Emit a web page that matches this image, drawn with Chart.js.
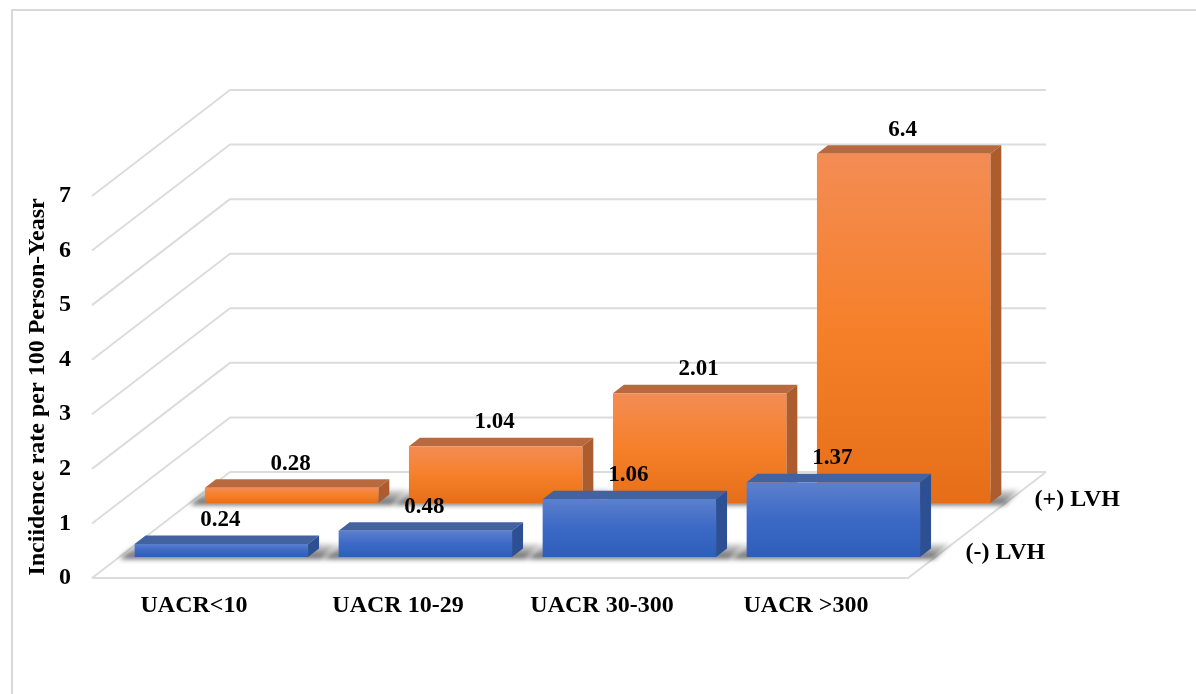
<!DOCTYPE html>
<html>
<head>
<meta charset="utf-8">
<style>
html,body{margin:0;padding:0;background:#fff;width:1196px;height:694px;overflow:hidden}
#frame{position:absolute;left:11px;top:9px;width:1300px;height:800px;border:2px solid #d9d9d9;box-sizing:border-box}
canvas{position:absolute;left:0;top:0}
</style>
<script src="https://cdn.jsdelivr.net/npm/chart.js@4"></script>
</head>
<body>
<div id="frame"></div>
<canvas id="c" width="1196" height="694"></canvas>
<script>
const categories = ['UACR<10', 'UACR 10-29', 'UACR 30-300', 'UACR >300'];
const seriesNames = ['(-) LVH', '(+) LVH'];
const lvhNegative = [0.24, 0.48, 1.06, 1.37];
const lvhPositive = [0.28, 1.04, 2.01, 6.4];
const axisTitle = 'Inciidence rate per 100 Person-Yeasr';
const yTicks = [0, 1, 2, 3, 4, 5, 6, 7];

// oblique projection of the floor
const WALL_DX = 138, WALL_DY = 106;       // front wall -> back wall
const BAR_DX = 11, BAR_DY = 8.5;          // front face -> back face of a bar
const SERIES_DEPTH = {xNeg: 21, xPos: 75}; // px up the floor of each front face
const FONT = '"Liberation Serif", "Times New Roman", serif';
const GRID = '#dcdcdc';
const styles = [
  {top: 'rgb(66,98,160)', side: 'rgb(45,80,148)', stops: ['rgb(92,128,204)', 'rgb(60,105,198)', 'rgb(46,94,186)']},
  {top: 'rgb(184,106,62)', side: 'rgb(172,92,45)', stops: ['rgb(243,140,84)', 'rgb(246,128,42)', 'rgb(230,110,25)']}
];

function faceGradient(i) {
  return function (c) {
    const chart = c.chart;
    const y = chart.scales[i === 0 ? 'yNeg' : 'yPos'];
    const fallback = styles[i].stops[1];
    if (c.dataIndex === undefined || !y) return fallback;
    const y0 = y.getPixelForValue(c.dataset.data[c.dataIndex]);
    const y1 = y.getPixelForValue(0);
    if (!isFinite(y0) || !isFinite(y1)) return fallback;
    const g = chart.ctx.createLinearGradient(0, y0, 0, y1);
    g.addColorStop(0, styles[i].stops[0]);
    g.addColorStop(0.5, styles[i].stops[1]);
    g.addColorStop(1, styles[i].stops[2]);
    return g;
  };
}

const obliquePlugin = {
  id: 'oblique',
  afterLayout(chart) {
    const fx = chart.scales.x, fy = chart.scales.y;
    [['xNeg', 'yNeg'], ['xPos', 'yPos']].forEach(([xid, yid]) => {
      const depth = SERIES_DEPTH[xid];
      const sx = chart.scales[xid], sy = chart.scales[yid];
      const dx = depth * WALL_DX / WALL_DY;
      sx.left = fx.left + dx; sx.right = fx.right + dx; sx.width = fx.width;
      sx.top = fx.top; sx.bottom = fx.bottom; sx.height = fx.height;
      sy.left = fy.left; sy.right = fy.right; sy.width = fy.width;
      sy.top = fy.top - depth; sy.bottom = fy.bottom - depth; sy.height = fy.height;
      sx.configure(); sy.configure();
    });
  },
  beforeDraw(chart) {
    const ctx = chart.ctx, y = chart.scales.y, x = chart.scales.x;
    ctx.save();
    ctx.strokeStyle = GRID;
    ctx.lineWidth = 2;
    ctx.lineJoin = 'round';
    yTicks.forEach(v => {
      const py = y.getPixelForValue(v);
      ctx.beginPath();
      ctx.moveTo(x.left, py);
      ctx.lineTo(x.left + WALL_DX, py - WALL_DY);
      ctx.lineTo(x.right + WALL_DX, py - WALL_DY);
      ctx.stroke();
    });
    const p0 = y.getPixelForValue(0);
    ctx.beginPath();
    ctx.moveTo(x.left, p0);
    ctx.lineTo(x.right, p0);
    ctx.lineTo(x.right + WALL_DX, p0 - WALL_DY);
    ctx.stroke();
    // depth axis labels
    ctx.fillStyle = '#000';
    ctx.font = 'bold 24px ' + FONT;
    ctx.textAlign = 'left';
    ctx.textBaseline = 'middle';
    seriesNames.forEach((name, i) => {
      const d = (i + 0.5) / seriesNames.length;
      ctx.fillText(name, x.right + WALL_DX * d + 23, p0 - WALL_DY * d + 1);
    });
    ctx.restore();
  },
  beforeDatasetsDraw(chart) {
    const ctx = chart.ctx;
    [1, 0].forEach(i => {
      chart.getDatasetMeta(i).data.forEach(bar => {
        const l = bar.x - bar.width / 2, r = bar.x + bar.width / 2, b = bar.base;
        ctx.save();
        ctx.filter = 'blur(2.5px)';
        const g = ctx.createLinearGradient(0, b - 14, 0, b + 2);
        g.addColorStop(0, 'rgba(120,120,120,0.25)');
        g.addColorStop(1, 'rgba(70,70,70,0.9)');
        ctx.fillStyle = g;
        ctx.beginPath();
        ctx.moveTo(l - 15, b + 2);
        ctx.lineTo(r + 14, b + 2);
        ctx.lineTo(r + 30, b - 13);
        ctx.lineTo(l + 2, b - 13);
        ctx.closePath();
        ctx.fill();
        ctx.restore();
      });
    });
  },
  beforeDatasetDraw(chart, args) {
    const ctx = chart.ctx, st = styles[args.index];
    args.meta.data.forEach(bar => {
      const l = bar.x - bar.width / 2, r = bar.x + bar.width / 2, t = bar.y, b = bar.base;
      ctx.save();
      ctx.fillStyle = st.top;
      ctx.beginPath();
      ctx.moveTo(l, t); ctx.lineTo(r, t);
      ctx.lineTo(r + BAR_DX, t - BAR_DY); ctx.lineTo(l + BAR_DX, t - BAR_DY);
      ctx.closePath(); ctx.fill();
      ctx.fillStyle = st.side;
      ctx.beginPath();
      ctx.moveTo(r, t); ctx.lineTo(r + BAR_DX, t - BAR_DY);
      ctx.lineTo(r + BAR_DX, b - BAR_DY); ctx.lineTo(r, b);
      ctx.closePath(); ctx.fill();
      ctx.restore();
    });
  },
  afterDatasetsDraw(chart) {
    const ctx = chart.ctx;
    ctx.save();
    ctx.fillStyle = '#000';
    ctx.font = 'bold 23px ' + FONT;
    ctx.textAlign = 'center';
    ctx.textBaseline = 'middle';
    chart.data.datasets.forEach((ds, i) => {
      chart.getDatasetMeta(i).data.forEach((bar, j) => {
        ctx.fillText(String(ds.data[j]), bar.x - 1, bar.y - 24);
      });
    });
    ctx.restore();
  }
};

new Chart(document.getElementById('c'), {
  type: 'bar',
  data: {
    labels: categories,
    datasets: [
      {label: seriesNames[0], data: lvhNegative, xAxisID: 'xNeg', yAxisID: 'yNeg', backgroundColor: faceGradient(0), borderWidth: 0, clip: false, grouped: false, barPercentage: 0.85, categoryPercentage: 1},
      {label: seriesNames[1], data: lvhPositive, xAxisID: 'xPos', yAxisID: 'yPos', backgroundColor: faceGradient(1), borderWidth: 0, clip: false, grouped: false, barPercentage: 0.85, categoryPercentage: 1}
    ]
  },
  options: {
    responsive: false,
    animation: false,
    layout: {padding: {left: 0, top: 196, right: 288, bottom: 0}},
    plugins: {legend: {display: false}, tooltip: {enabled: false}},
    scales: {
      x: {
        type: 'category', labels: categories, offset: true, position: 'bottom',
        grid: {display: false, drawTicks: false}, border: {display: false},
        ticks: {color: '#000', font: {family: FONT, weight: 'bold', size: 24}, padding: 13, maxRotation: 0, autoSkip: false},
        afterFit(s) { s.height = 694 - 578; }
      },
      y: {
        type: 'linear', min: 0, max: 7, position: 'left',
        grid: {display: false, drawTicks: false}, border: {display: false},
        ticks: {color: '#000', font: {family: FONT, weight: 'bold', size: 24}, padding: 21, stepSize: 1},
        title: {display: true, text: axisTitle, color: '#000', font: {family: FONT, weight: 'bold', size: 24}, padding: {top: 23, bottom: 0}},
        afterFit(s) { s.width = 92; }
      },
      xNeg: {type: 'category', axis: 'x', labels: categories, offset: true, display: false},
      xPos: {type: 'category', axis: 'x', labels: categories, offset: true, display: false},
      yNeg: {type: 'linear', axis: 'y', min: 0, max: 7, display: false},
      yPos: {type: 'linear', axis: 'y', min: 0, max: 7, display: false}
    }
  },
  plugins: [obliquePlugin]
});
</script>
</body>
</html>
